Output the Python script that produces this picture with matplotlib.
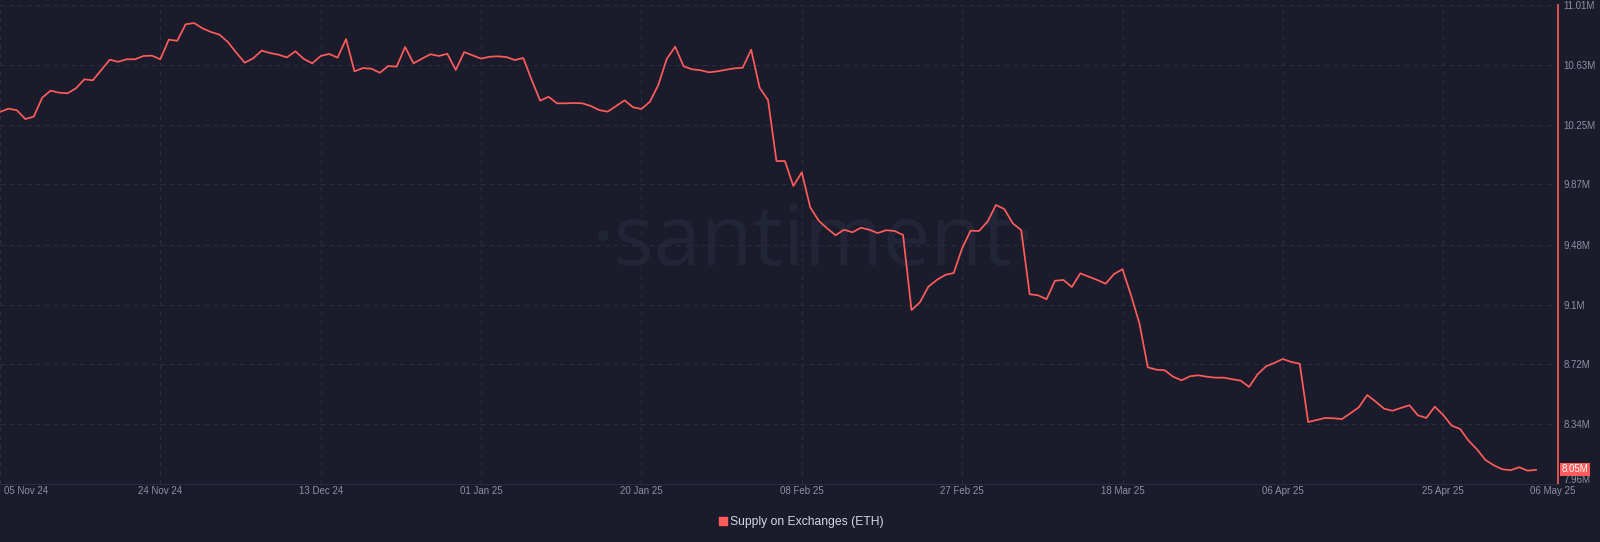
import matplotlib
matplotlib.use("Agg")
import matplotlib.pyplot as plt
import matplotlib.transforms as mtransforms
from matplotlib.lines import Line2D
import pandas as pd

# daily supply on exchanges (ETH), in millions, 05 Nov 24 -> 06 May 25
start_date = "2024-11-05"
supply_m = [
    10.330, 10.351, 10.341, 10.285, 10.300, 10.421, 10.466, 10.453, 10.449, 10.481,
    10.538, 10.532, 10.598, 10.663, 10.650, 10.666, 10.666, 10.687, 10.689, 10.666,
    10.791, 10.784, 10.889, 10.897, 10.863, 10.840, 10.823, 10.776, 10.708, 10.644,
    10.672, 10.721, 10.706, 10.695, 10.678, 10.717, 10.668, 10.640, 10.687, 10.700,
    10.676, 10.795, 10.589, 10.610, 10.606, 10.580, 10.623, 10.619, 10.744, 10.640,
    10.670, 10.698, 10.687, 10.701, 10.598, 10.712, 10.691, 10.670, 10.682, 10.685,
    10.680, 10.661, 10.674, 10.534, 10.402, 10.427, 10.385, 10.385, 10.387, 10.385,
    10.368, 10.342, 10.332, 10.368, 10.404, 10.360, 10.349, 10.395, 10.502, 10.668,
    10.746, 10.621, 10.602, 10.596, 10.583, 10.589, 10.599, 10.608, 10.612, 10.727,
    10.485, 10.406, 10.017, 10.017, 9.858, 9.945, 9.722, 9.637, 9.588, 9.544,
    9.579, 9.563, 9.592, 9.579, 9.558, 9.576, 9.571, 9.546, 9.067, 9.117,
    9.216, 9.259, 9.291, 9.303, 9.461, 9.573, 9.571, 9.630, 9.737, 9.711,
    9.620, 9.576, 9.168, 9.161, 9.136, 9.254, 9.259, 9.214, 9.301, 9.280,
    9.259, 9.235, 9.297, 9.327, 9.163, 8.983, 8.702, 8.687, 8.683, 8.642,
    8.619, 8.645, 8.651, 8.642, 8.636, 8.636, 8.626, 8.617, 8.577, 8.657,
    8.708, 8.730, 8.755, 8.736, 8.725, 8.353, 8.366, 8.379, 8.377, 8.372,
    8.409, 8.447, 8.525, 8.483, 8.438, 8.425, 8.443, 8.460, 8.396, 8.379,
    8.451, 8.398, 8.330, 8.309, 8.234, 8.179, 8.111, 8.077, 8.052, 8.046,
    8.065, 8.043, 8.048,
]
dates = pd.date_range(start_date, periods=len(supply_m), freq="D")

x_tick_labels = ["05 Nov 24", "24 Nov 24", "13 Dec 24", "01 Jan 25", "20 Jan 25",
                 "08 Feb 25", "27 Feb 25", "18 Mar 25", "06 Apr 25", "25 Apr 25"]
x_tick_dates = pd.to_datetime(x_tick_labels, format="%d %b %y")
end_label = "06 May 25"

y_ticks = [7.96, 8.34, 8.72, 9.10, 9.48, 9.87, 10.25, 10.63, 11.01]
y_tick_labels = ["7.96M", "8.34M", "8.72M", "9.1M", "9.48M", "9.87M", "10.25M", "10.63M", "11.01M"]

series_name = "Supply on Exchanges (ETH)"

BG = "#1a1c2c"
RED = "#ff5b5b"
GRID = "#2a2d40"
GREY = "#8c90a3"

plt.rcParams["font.family"] = ["Liberation Sans", "DejaVu Sans"]

fig = plt.figure(figsize=(16, 5.42), dpi=100, facecolor=BG)
ax = fig.add_axes([0, 0.1076, 0.97375, 0.8826])
ax.set_facecolor(BG)

# watermark
ax.text(0.522, 0.458, "\u00b7santiment\u00b7", transform=ax.transAxes, ha="center", va="baseline",
        fontsize=61, color="#222537", family="Open Sans", zorder=0)

ax.plot(dates, supply_m, color=RED, lw=1.25, zorder=3)

ax.set_xlim(dates[0], dates[-1] + pd.Timedelta(days=2.6))
ax.set_ylim(7.96, 11.01)

ax.set_xticks(x_tick_dates)
ax.set_xticklabels(x_tick_labels)
ax.set_yticks(y_ticks)
ax.set_yticklabels(y_tick_labels)
ax.yaxis.tick_right()
ax.tick_params(axis="both", length=0, labelcolor=GREY, labelsize=7)
ax.tick_params(axis="y", pad=4)
ax.tick_params(axis="x", pad=2)
ax.grid(True, color=GRID, ls=(0, (4, 4)), lw=0.8, zorder=1)

# nudge the edge labels inside, as the reference does
first = ax.get_xticklabels()[0]
first.set_ha("left")
first.set_transform(first.get_transform() + mtransforms.ScaledTranslation(3 / 72, 0, fig.dpi_scale_trans))
bottom = ax.get_yticklabels()[0]
bottom.set_transform(bottom.get_transform() + mtransforms.ScaledTranslation(0, 3.5 / 72, fig.dpi_scale_trans))

for side in ("left", "top"):
    ax.spines[side].set_visible(False)
ax.spines["right"].set_color(RED)
ax.spines["right"].set_linewidth(1.2)
ax.spines["bottom"].set_color(GRID)
ax.spines["bottom"].set_linewidth(0.8)

# last value marker on the axis
ax.annotate(f"{supply_m[-1]:.2f}M", xy=(1, supply_m[-1]), xycoords=("axes fraction", "data"),
            xytext=(2.5, 0.5), textcoords="offset points", ha="left", va="center",
            color="white", fontsize=7,
            bbox=dict(boxstyle="square,pad=0.15", fc=RED, ec="none"))

# end date label, level with the other date labels
ax.annotate(end_label, xy=(dates[-1], 0), xycoords=("data", "axes fraction"),
            xytext=(12, -2), textcoords="offset points", ha="center", va="top",
            color=GREY, fontsize=7)

handle = Line2D([], [], marker="s", color=RED, ls="none", markersize=6)
fig.legend([handle], [series_name], loc="center", bbox_to_anchor=(0.5, 0.037),
           frameon=False, labelcolor="#d5d8e0", fontsize=8.7, handletextpad=0.1,
           handlelength=1.0)

fig.savefig("out.png", dpi=100, facecolor=BG)
